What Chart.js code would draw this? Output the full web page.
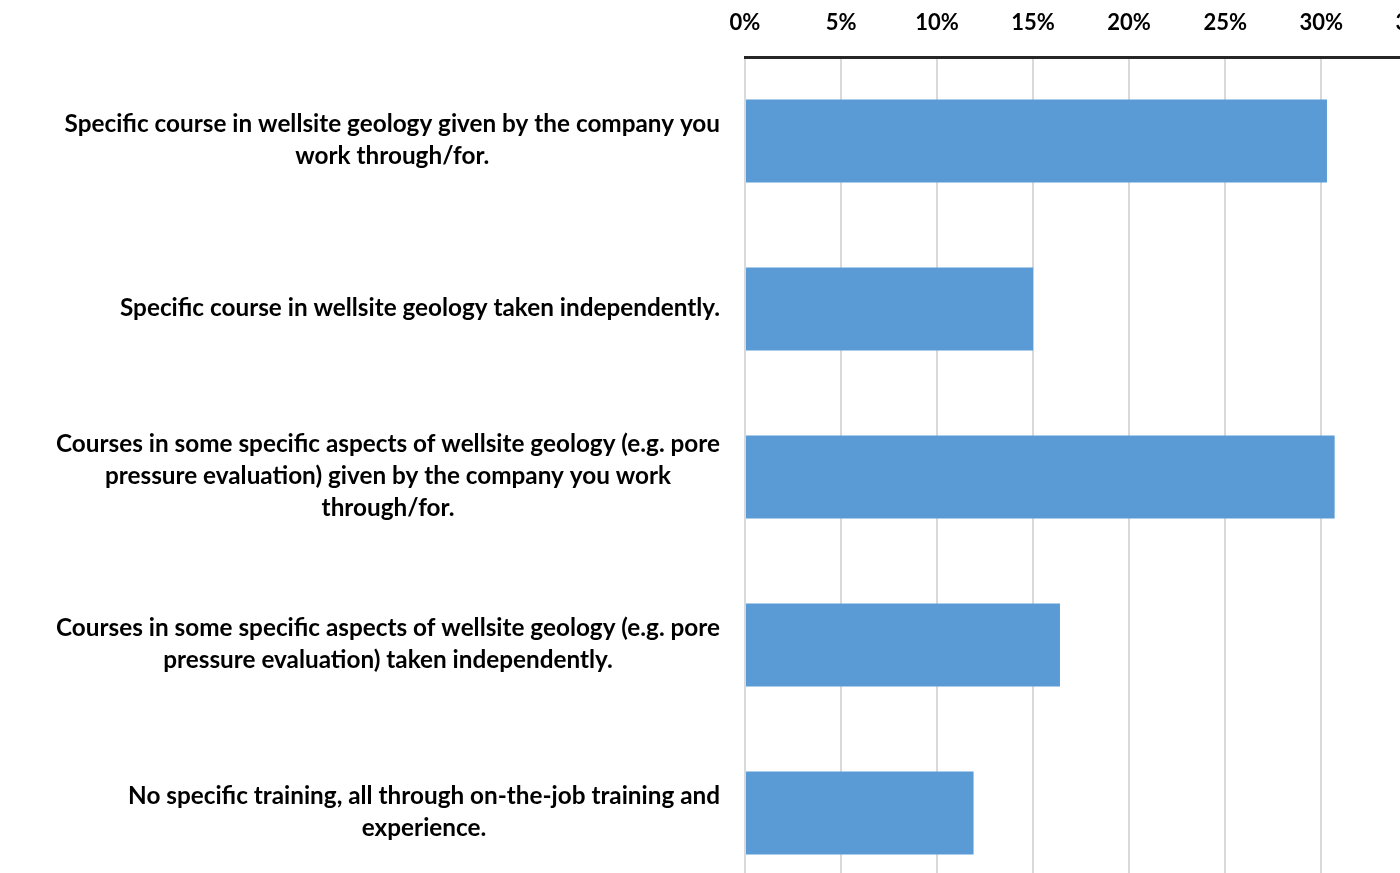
<!DOCTYPE html>
<html>
<head>
<meta charset="utf-8">
<script src="https://cdn.jsdelivr.net/npm/chart.js@4/dist/chart.umd.min.js"></script>
<style>
  html, body { margin: 0; padding: 0; background: #fff; overflow: hidden; }
  #wrap { position: absolute; left: 0; top: 0; }
</style>
</head>
<body>
<div id="wrap"><canvas id="trainingChart" width="1460" height="897"></canvas></div>
<script>
// training routes, one entry per bar (each entry = lines of the label)
const categories = [
    ['Specific course in wellsite geology given by the company you', 'work through/for.'],
    ['Specific course in wellsite geology taken independently.'],
    ['Courses in some specific aspects of wellsite geology (e.g. pore', 'pressure evaluation) given by the company you work', 'through/for.'],
    ['Courses in some specific aspects of wellsite geology (e.g. pore', 'pressure evaluation) taken independently.'],
    ['No specific training, all through on-the-job training and', 'experience.']
];
// share of respondents (%)
const shares = [30.3, 15.0, 30.7, 16.4, 11.9];
const tickValues = [0, 5, 10, 15, 20, 25, 30, 35];

const LABEL_FONT = 'bold 24.3px Lato';
const LABEL_RIGHT = 720;
const LINE_HEIGHT = 31.8;

// category labels: block right-aligned, lines centred within the block
const blockLabels = {
    id: 'blockLabels',
    afterDraw(chart) {
        const ctx = chart.ctx;
        const yScale = chart.scales.y;
        ctx.save();
        ctx.font = LABEL_FONT;
        ctx.fillStyle = '#000';
        ctx.textAlign = 'center';
        ctx.textBaseline = 'middle';
        categories.forEach((lines, i) => {
            const w = Math.max(...lines.map(l => ctx.measureText(l).width));
            const cx = LABEL_RIGHT - w / 2;
            const cy = yScale.getPixelForValue(i) - 1;
            const top = cy - (lines.length - 1) * LINE_HEIGHT / 2;
            lines.forEach((l, j) => ctx.fillText(l, cx, top + j * LINE_HEIGHT));
        });
        ctx.restore();
    }
};

new Chart(document.getElementById('trainingChart'), {
    type: 'bar',
    data: {
        labels: categories,
        datasets: [{
            data: shares,
            backgroundColor: '#5B9BD5',
            borderWidth: 0,
            barPercentage: 1,
            categoryPercentage: 0.494
        }]
    },
    options: {
        indexAxis: 'y',
        responsive: false,
        animation: false,
        layout: { padding: 0 },
        plugins: {
            legend: { display: false },
            tooltip: { enabled: false }
        },
        scales: {
            x: {
                position: 'top',
                min: 0,
                max: 35,
                afterBuildTicks: scale => { scale.ticks = tickValues.map(v => ({ value: v })); },
                afterFit: scale => { scale.height = 57; },
                ticks: {
                    callback: v => v + '%',
                    font: { family: 'Lato', weight: 'bold', size: 22 },
                    color: '#000',
                    padding: 21,
                    maxRotation: 0
                },
                grid: { color: '#D9D9D9', lineWidth: 2, drawTicks: false },
                border: { color: '#262626', width: 3 }
            },
            y: {
                afterFit: scale => { scale.width = 745; },
                ticks: { display: false },
                grid: { display: false },
                border: { display: false }
            }
        }
    },
    plugins: [blockLabels]
});
</script>
</body>
</html>
